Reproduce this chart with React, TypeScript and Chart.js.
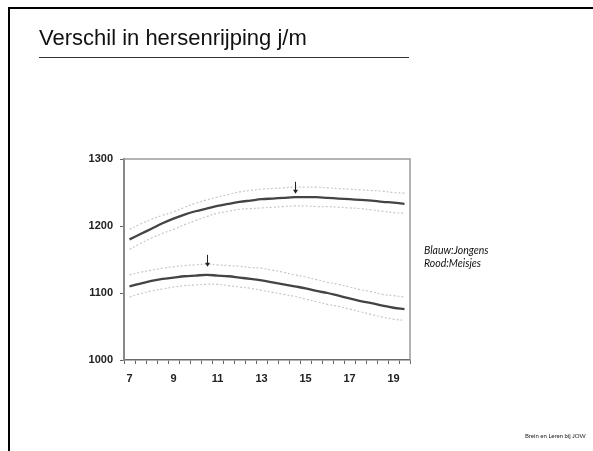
import React, { useEffect, useRef } from "react";
import { Chart, registerables } from "chart.js";

Chart.register(...registerables);

const AGES = [7, 7.5, 8, 8.5, 9, 9.5, 10, 10.5, 11, 11.5, 12, 12.5, 13, 13.5, 14, 14.5, 15, 15.5, 16, 16.5, 17, 17.5, 18, 18.5, 19, 19.5];
const SHOWN_AGE_LABELS = ["7", "9", "11", "13", "15", "17", "19"];
const Y_TICKS = [1000, 1100, 1200, 1300];

const BOYS_MEAN = [1180, 1188, 1196, 1204, 1211, 1217, 1222, 1226, 1230, 1233, 1236, 1238, 1240, 1241, 1242, 1243, 1243, 1243, 1242, 1241, 1240, 1239, 1238, 1236, 1235, 1233];
const BOYS_UPPER = [1195, 1203, 1210, 1216, 1221, 1228, 1234, 1239, 1243, 1247, 1251, 1253, 1255, 1256, 1257, 1258, 1258, 1258, 1257, 1256, 1255, 1254, 1253, 1252, 1250, 1249];
const BOYS_LOWER = [1165, 1174, 1182, 1189, 1195, 1202, 1208, 1214, 1219, 1222, 1225, 1226, 1227, 1228, 1229, 1230, 1230, 1229, 1229, 1228, 1227, 1226, 1224, 1222, 1220, 1219];

const GIRLS_MEAN = [1110, 1114, 1118, 1121, 1123, 1125, 1126, 1127, 1126, 1125, 1123, 1121, 1119, 1116, 1113, 1110, 1107, 1103, 1100, 1096, 1092, 1088, 1085, 1081, 1078, 1076];
const GIRLS_UPPER = [1127, 1131, 1134, 1137, 1139, 1141, 1142, 1143, 1142, 1141, 1140, 1138, 1137, 1134, 1131, 1127, 1124, 1120, 1116, 1113, 1109, 1105, 1102, 1098, 1096, 1094];
const GIRLS_LOWER = [1094, 1099, 1103, 1106, 1109, 1111, 1112, 1113, 1113, 1111, 1109, 1107, 1104, 1101, 1098, 1095, 1091, 1087, 1083, 1080, 1076, 1072, 1068, 1064, 1061, 1059];

// peak arrows: age, arrow top value, arrow tip value
const ARROW_AGES = [14.5, 10.5];
const ARROW_TOPS = [1266, 1157];
const ARROW_TIPS = [1248, 1139];

const frameAndArrows = {
  id: "frameAndArrows",
  afterDatasetsDraw(chart: any) {
    const { ctx, chartArea, scales } = chart;
    ctx.save();
    ctx.strokeStyle = "#9a9a9a";
    ctx.lineWidth = 1.5;
    ctx.beginPath();
    ctx.moveTo(chartArea.left, chartArea.top);
    ctx.lineTo(chartArea.right, chartArea.top);
    ctx.lineTo(chartArea.right, chartArea.bottom);
    ctx.stroke();
    ctx.strokeStyle = "#222";
    ctx.fillStyle = "#222";
    ctx.lineWidth = 1;
    ARROW_AGES.forEach((age, i) => {
      const idx = AGES.indexOf(age);
      const x = Math.round(scales.x.getPixelForValue(idx)) + 0.5;
      const y1 = scales.y.getPixelForValue(ARROW_TOPS[i]);
      const y2 = scales.y.getPixelForValue(ARROW_TIPS[i]);
      ctx.beginPath();
      ctx.moveTo(x, y1);
      ctx.lineTo(x, y2 - 3);
      ctx.stroke();
      ctx.beginPath();
      ctx.moveTo(x - 2.5, y2 - 4);
      ctx.lineTo(x + 2.5, y2 - 4);
      ctx.lineTo(x, y2);
      ctx.closePath();
      ctx.fill();
    });
    ctx.restore();
  },
};

export default function App() {
  const ref = useRef<HTMLCanvasElement>(null);
  useEffect(() => {
    if (!ref.current) return;
    const band = (data: number[]) => ({
      data,
      borderColor: "#c8c8c8",
      borderWidth: 1.2,
      borderDash: [2, 2],
      pointRadius: 0,
      tension: 0.4,
      fill: false,
    });
    const mean = (data: number[]) => ({
      data,
      borderColor: "#444",
      borderWidth: 2.3,
      pointRadius: 0,
      tension: 0.4,
      fill: false,
    });
    const chart = new Chart(ref.current, {
      type: "line",
      data: {
        labels: AGES.map(String),
        datasets: [
          band(BOYS_UPPER),
          band(BOYS_LOWER),
          band(GIRLS_UPPER),
          band(GIRLS_LOWER),
          mean(BOYS_MEAN),
          mean(GIRLS_MEAN),
        ] as any,
      },
      options: {
        animation: false,
        responsive: false,
        events: [],
        layout: { padding: { left: 84, right: 183, top: 159, bottom: 61 } },
        plugins: { legend: { display: false }, tooltip: { enabled: false } },
        scales: {
          x: {
            type: "category",
            offset: true,
            grid: { offset: true, drawOnChartArea: false, drawTicks: true, tickLength: 4, color: "#666", lineWidth: 1 },
            border: { color: "#6a6a6a", width: 1.5 },
            ticks: {
              autoSkip: false,
              maxRotation: 0,
              padding: 8,
              color: "#222",
              font: { family: "Liberation Sans, Arial", size: 11, weight: "bold" },
              callback: (v: any, i: number) => {
                const s = String(AGES[i]);
                return SHOWN_AGE_LABELS.includes(s) ? s : "";
              },
            },
            afterFit: (s: any) => { s.height = 30; },
          },
          y: {
            min: Y_TICKS[0],
            max: Y_TICKS[Y_TICKS.length - 1],
            grid: { drawOnChartArea: false, drawTicks: true, tickLength: 4, color: "#666" },
            border: { color: "#888", width: 2 },
            afterBuildTicks: (s: any) => { s.ticks = Y_TICKS.map((v) => ({ value: v })); },
            ticks: {
              padding: 7,
              color: "#222",
              font: { family: "Liberation Sans, Arial", size: 11, weight: "bold" },
              callback: (v: any) => String(v),
            },
            afterFit: (s: any) => { s.width = 40; },
          },
        },
      },
      plugins: [frameAndArrows],
    });
    return () => chart.destroy();
  }, []);

  return (
    <div style={{ position: "absolute", left: 0, top: 0, width: 593, height: 451, background: "#fff", overflow: "hidden" }}>
      <div style={{ position: "absolute", left: 8, top: 7, width: 700, height: 600, borderLeft: "2px solid #000", borderTop: "2px solid #000" }} />
      <canvas ref={ref} width={593} height={451} style={{ position: "absolute", left: 0, top: 0, width: 593, height: 451 }} />
      <div style={{ position: "absolute", left: 39, top: 25, fontFamily: "Liberation Sans, Arial, sans-serif", fontSize: 22, color: "#111", whiteSpace: "nowrap", lineHeight: "26px" }}>
        Verschil in hersenrijping j/m
      </div>
      <div style={{ position: "absolute", left: 39, top: 57, width: 370, height: 0, borderTop: "1.5px solid #333" }} />
      <div style={{ position: "absolute", left: 424, top: 244, fontFamily: "Lato, 'Open Sans', sans-serif", fontStyle: "italic", fontSize: 10.5, color: "#111", lineHeight: "13px", whiteSpace: "nowrap" }}>
        <div>Blauw:Jongens</div>
        <div>Rood:Meisjes</div>
      </div>
      <div style={{ position: "absolute", left: 525, top: 432, fontFamily: "Lato, 'Open Sans', sans-serif", fontSize: 6, color: "#222", whiteSpace: "nowrap", lineHeight: "8px" }}>
        Brein en Leren bij JOW
      </div>
    </div>
  );
}
